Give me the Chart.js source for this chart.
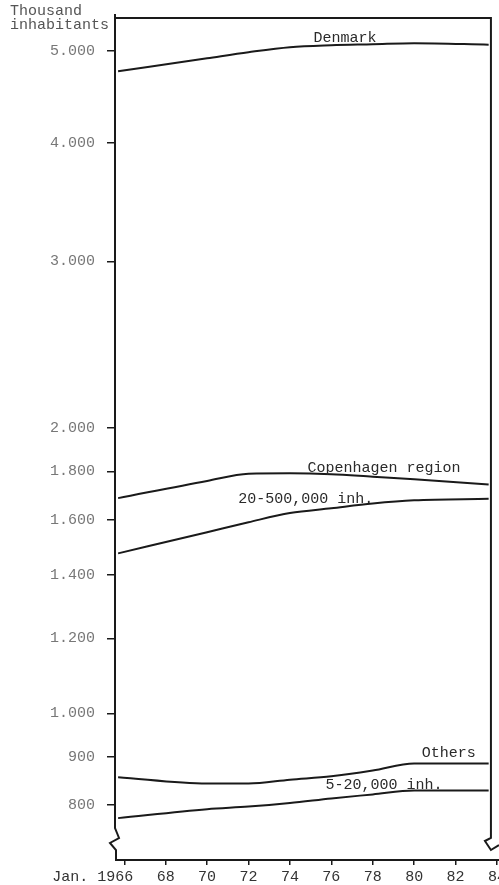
<!DOCTYPE html>
<html>
<head>
<meta charset="utf-8">
<script src="https://cdn.jsdelivr.net/npm/chart.js@4/dist/chart.umd.min.js"></script>
<style>
  body { margin: 0; background: #fff; }
  #wrap { width: 499px; height: 885px; }
</style>
</head>
<body>
<div id="wrap"><canvas id="popChart"></canvas></div>
<script>
// Population par groupe de communes, échelle logarithmique (milliers d'habitants)
const years       = [1965.7, 1970, 1972, 1974, 1976, 1978, 1980, 1983.6];
const denmark     = [4762, 4915, 4988, 5049, 5073, 5085, 5098, 5080];
const copenhagen  = [1687, 1759, 1790, 1792, 1788, 1777, 1766, 1744];
const bigTowns    = [1475, 1553, 1591, 1627, 1646, 1665, 1678, 1684];
const others      = [856, 843, 843, 851, 858, 870, 885, 885];
const smallTowns  = [775, 792, 797, 804, 813, 821, 829, 829];

const yTicks = [800, 900, 1000, 1200, 1400, 1600, 1800, 2000, 3000, 4000, 5000];
const xTicks = [1966, 1968, 1970, 1972, 1974, 1976, 1978, 1980, 1982, 1984];
const frameEnd = 1983.71; // bord droit du cadre

// libellés posés le long des courbes : [texte, année, valeur]
const seriesLabels = [
  ['Denmark', 1975.14, 5160],
  ['Copenhagen region', 1974.85, 1817],
  ['20-500,000 inh.', 1971.5, 1685],
  ['Others', 1980.37, 907],
  ['5-20,000 inh.', 1975.72, 840],
];

const ink = '#1a1a1a';
const mono = '"Liberation Mono", "DejaVu Sans Mono", monospace';

const toPoints = (vals) => vals.map((v, i) => ({ x: years[i], y: v }));
const fmtThousands = (v) => String(v).replace(/(\d)(?=(\d{3})+$)/, '$1.');

const line = (label, vals) => ({
  label,
  data: toPoints(vals),
  borderColor: ink,
  borderWidth: 2,
  pointRadius: 0,
  fill: false,
  cubicInterpolationMode: 'monotone',
});

// cadre, ruptures d'axe, titre et libellés des séries
const decor = {
  id: 'decor',
  afterDraw(chart) {
    const { ctx, chartArea: a, scales } = chart;
    const right = scales.x.getPixelForValue(frameEnd);
    ctx.save();
    ctx.strokeStyle = ink;
    ctx.lineWidth = 2;
    ctx.beginPath();
    // axe gauche avec rupture
    ctx.moveTo(a.left, a.top - 4);
    ctx.lineTo(a.left, a.bottom - 32);
    ctx.lineTo(a.left + 2, a.bottom - 27);
    ctx.lineTo(a.left + 4, a.bottom - 22);
    ctx.lineTo(a.left - 5, a.bottom - 17);
    ctx.lineTo(a.left + 1, a.bottom - 10);
    ctx.lineTo(a.left + 1, a.bottom);
    // haut et droite avec rupture
    ctx.moveTo(a.left, a.top);
    ctx.lineTo(right, a.top);
    ctx.lineTo(right, a.bottom - 22);
    ctx.lineTo(right - 6, a.bottom - 19);
    ctx.lineTo(right, a.bottom - 10);
    ctx.lineTo(right + 8, a.bottom - 15);
    // axe du bas
    ctx.moveTo(a.left, a.bottom);
    ctx.lineTo(a.right, a.bottom);
    ctx.stroke();

    ctx.font = '15px ' + mono;
    ctx.fillStyle = '#555';
    ctx.textBaseline = 'middle';
    ctx.textAlign = 'left';
    ctx.fillText('Thousand', 10, 11);
    ctx.fillText('inhabitants', 10, 25);

    ctx.fillStyle = '#2a2a2a';
    seriesLabels.forEach(([txt, yr, val]) => {
      ctx.fillText(txt, scales.x.getPixelForValue(yr), scales.y.getPixelForValue(val));
    });
    ctx.restore();
  },
};

new Chart(document.getElementById('popChart'), {
  type: 'line',
  data: {
    datasets: [
      line('Denmark', denmark),
      line('Copenhagen region', copenhagen),
      line('20-500,000 inh.', bigTowns),
      line('Others', others),
      line('5-20,000 inh.', smallTowns),
    ],
  },
  options: {
    responsive: true,
    maintainAspectRatio: false,
    animation: false,
    layout: { padding: { top: 18, right: 0, left: 0, bottom: 0 } },
    plugins: { legend: { display: false }, tooltip: { enabled: false } },
    scales: {
      x: {
        type: 'linear',
        min: 1965.55,
        max: 1984.1,
        afterBuildTicks: (s) => { s.ticks = xTicks.map((v) => ({ value: v })); },
        afterFit: (s) => { s.height = 25; s.paddingLeft = 0; s.paddingRight = 0; },
        border: { display: false },
        grid: { drawOnChartArea: false, color: ink, lineWidth: 1.5, tickLength: 5 },
        ticks: {
          color: '#333',
          padding: 3,
          autoSkip: false,
          maxRotation: 0,
          font: { family: mono, size: 15 },
          callback: (v) => (v === 1966 ? 'Jan. 1966       ' : String(v).slice(2)),
        },
      },
      y: {
        type: 'logarithmic',
        min: 700,
        max: 5420,
        afterBuildTicks: (s) => { s.ticks = yTicks.map((v) => ({ value: v })); },
        afterFit: (s) => { s.width = 115; s.paddingTop = 0; s.paddingBottom = 0; },
        border: { display: false },
        grid: { drawOnChartArea: false, color: ink, lineWidth: 1.5, tickLength: 8 },
        ticks: {
          color: '#777',
          padding: 12,
          font: { family: mono, size: 15 },
          callback: (v) => fmtThousands(v),
        },
      },
    },
  },
  plugins: [decor],
});
</script>
</body>
</html>
